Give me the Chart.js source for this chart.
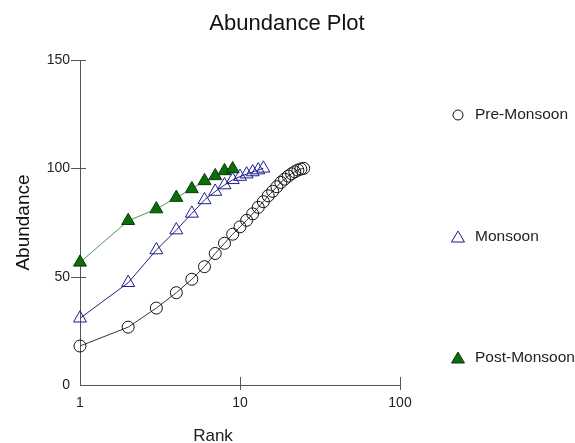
<!DOCTYPE html>
<html>
<head>
<meta charset="utf-8">
<script src="https://cdn.jsdelivr.net/npm/chart.js@4/dist/chart.umd.min.js"></script>
<style>
    html, body { margin: 0; padding: 0; background: #fff; }
    #wrap { position: relative; width: 575px; height: 443px; }
</style>
</head>
<body>
<div id="wrap"><canvas id="abundanceChart" width="575" height="443"></canvas></div>
<script>
const chartTitle = 'Abundance Plot';
const xTitle = 'Rank';
const seriesNames = ['Pre-Monsoon', 'Monsoon', 'Post-Monsoon'];
const xTicks = [1, 10, 100];
const yTicks = [0, 50, 100, 150];

const preMonsoon = [18, 26.7, 35.5, 42.6, 48.8, 54.6, 60.7, 65.4, 69.6, 73, 76, 79, 82, 84.6, 87.3, 89.4, 91.5, 93.5, 95, 96.4, 97.5, 98.4, 99.2, 99.7, 100];
const monsoon = [30.8, 47.2, 62.3, 71.5, 79.2, 85.4, 89.3, 92.3, 94.7, 96.2, 97.3, 98.3, 99.2, 100];
const postMonsoon = [56.6, 75.8, 81.2, 86.5, 90.5, 94.2, 96.5, 98.8, 99.7];

function toPoints(values) {
    return values.map((v, i) => ({ x: i + 1, y: v }));
}

const fontFamily = '"Liberation Sans", Arial, sans-serif';

// draws titles, crossing tick marks and the side legend
const decorPlugin = {
    id: 'decor',
    afterDraw(chart) {
        const ctx = chart.ctx;
        const xs = chart.scales.x;
        const ys = chart.scales.y;
        ctx.save();
        ctx.fillStyle = '#111';
        ctx.font = '22px ' + fontFamily;
        ctx.textAlign = 'center';
        ctx.textBaseline = 'middle';
        ctx.fillText(chartTitle, 287, 24);

        ctx.fillStyle = '#222';
        ctx.font = '17px ' + fontFamily;
        ctx.fillText(xTitle, 213, 436);

        ctx.strokeStyle = '#555';
        ctx.lineWidth = 1;
        ctx.beginPath();
        yTicks.slice(1).forEach(v => {
            const py = Math.round(ys.getPixelForValue(v)) + 0.5;
            ctx.moveTo(xs.left - 9, py);
            ctx.lineTo(xs.left + 6, py);
        });
        xTicks.slice(1).forEach(v => {
            const px = Math.round(xs.getPixelForValue(v)) + 0.5;
            ctx.moveTo(px, ys.bottom - 8);
            ctx.lineTo(px, ys.bottom + 5);
        });
        ctx.stroke();

        const legendY = [115, 237, 358];
        chart.data.datasets.forEach((ds, i) => {
            const y = legendY[i];
            ctx.beginPath();
            ctx.lineWidth = 1;
            ctx.strokeStyle = ds.pointBorderColor;
            ctx.fillStyle = ds.pointBackgroundColor;
            if (ds.pointStyle === 'circle') {
                ctx.arc(458, y, 5, 0, Math.PI * 2);
            } else {
                ctx.moveTo(458, y - 6);
                ctx.lineTo(464.5, y + 5);
                ctx.lineTo(451.5, y + 5);
                ctx.closePath();
            }
            ctx.fill();
            ctx.stroke();
            ctx.fillStyle = '#222';
            ctx.font = '15.5px ' + fontFamily;
            ctx.textAlign = 'left';
            ctx.textBaseline = 'middle';
            ctx.fillText(ds.label, 475, y);
        });
        ctx.restore();
    }
};

new Chart(document.getElementById('abundanceChart').getContext('2d'), {
    type: 'line',
    data: {
        datasets: [
            {
                label: seriesNames[0],
                data: toPoints(preMonsoon),
                borderColor: '#333',
                borderWidth: 1,
                pointStyle: 'circle',
                pointRadius: 6,
                pointBorderWidth: 1,
                pointBorderColor: '#111',
                pointBackgroundColor: 'rgba(255,255,255,0)',
                clip: false
            },
            {
                label: seriesNames[1],
                data: toPoints(monsoon),
                borderColor: '#22227a',
                borderWidth: 1,
                pointStyle: 'triangle',
                pointRadius: 7.5,
                pointBorderWidth: 1,
                pointBorderColor: '#1c1c8c',
                pointBackgroundColor: 'rgba(255,255,255,0)',
                clip: false
            },
            {
                label: seriesNames[2],
                data: toPoints(postMonsoon),
                borderColor: '#4c9a4c',
                borderWidth: 1,
                pointStyle: 'triangle',
                pointRadius: 7.5,
                pointBorderWidth: 1,
                pointBorderColor: '#0a3a0a',
                pointBackgroundColor: '#0a6e0a',
                clip: false
            }
        ]
    },
    options: {
        responsive: false,
        animation: false,
        layout: { padding: { top: 60, right: 175, left: 0, bottom: 0 } },
        plugins: {
            legend: { display: false },
            tooltip: { enabled: false }
        },
        scales: {
            x: {
                type: 'logarithmic',
                min: 1,
                max: 100,
                afterBuildTicks: scale => { scale.ticks = xTicks.map(v => ({ value: v })); },
                afterFit: scale => { scale.height = 58; },
                grid: { display: false },
                border: { display: true, color: '#555', width: 1 },
                ticks: {
                    callback: v => String(v),
                    color: '#222',
                    font: { family: fontFamily, size: 14 },
                    padding: 2,
                    maxRotation: 0
                },
                title: { display: false }
            },
            y: {
                min: 0,
                max: 150,
                afterBuildTicks: scale => { scale.ticks = yTicks.map(v => ({ value: v })); },
                afterFit: scale => { scale.width = 80; },
                grid: { display: false },
                border: { display: true, color: '#555', width: 1 },
                ticks: {
                    color: '#222',
                    font: { family: fontFamily, size: 14 },
                    padding: 2
                },
                title: {
                    display: true,
                    text: 'Abundance',
                    color: '#111',
                    font: { family: fontFamily, size: 19 },
                    padding: { top: 12, bottom: 0 }
                }
            }
        }
    },
    plugins: [decorPlugin]
});
</script>
</body>
</html>
